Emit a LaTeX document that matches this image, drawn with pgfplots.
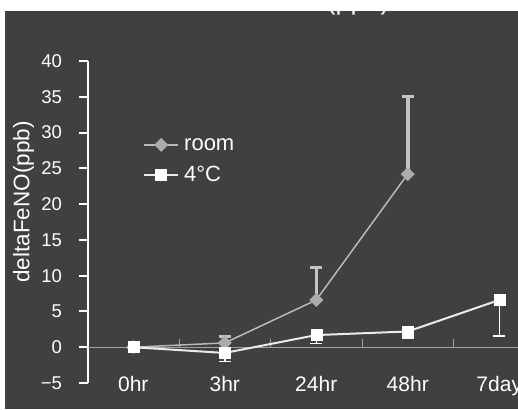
\documentclass[border=0pt]{standalone}
\usepackage{fontspec}
\setmainfont{Liberation Sans}
\usepackage{pgfplots}
\pgfplotsset{compat=1.18}
\definecolor{bg}{RGB}{64,64,64}
\definecolor{roomc}{RGB}{172,172,172}
\definecolor{roomline}{RGB}{185,185,185}
\definecolor{roomerr}{RGB}{195,195,195}
\definecolor{zeroc}{RGB}{160,160,160}
\definecolor{coldline}{RGB}{235,235,235}
\newcommand{\mns}{\char"2212\relax}
\newcommand{\degc}{\char"00B0\relax C}
\begin{document}
\begin{tikzpicture}[x=1bp,y=1bp]
\useasboundingbox (0,0) rectangle (518,409);
\fill[white] (0,0) rectangle (518,409);
\fill[bg] (5,0) rectangle (518,398);
\begin{scope}
\clip (5,0) rectangle (518,398);
\begin{axis}[
  at={(87.5bp,26bp)}, anchor=south west,
  scale only axis, width=457.5bp, height=322bp,
  xmin=-0.5, xmax=4.5, ymin=-5, ymax=40,
  axis lines*=left,
  x axis line style={draw=none},
  y axis line style={-, white, line width=2bp},
  xtick={0,...,4}, xticklabels={0hr,3hr,24hr,48hr,7day},
  xtick style={draw=none},
  ytick={-5,0,...,40},
  yticklabels={\mns5,0,5,10,15,20,25,30,35,40},
  ytick style={white, line width=2bp},
  tick align=outside,
  major tick length=9bp,
  yticklabel style={font=\fontsize{18.5bp}{20bp}\selectfont, text=white, xshift=-13bp},
  xticklabel style={font=\fontsize{21bp}{24bp}\selectfont, text=white, anchor=base, yshift=1bp},
  ylabel={\fontsize{22.5bp}{26bp}\selectfont deltaFeNO(ppb)},
  ylabel style={text=white, at={(axis description cs:-0.140,0.562)}, anchor=center},
  title={\fontsize{27bp}{30bp}\selectfont FeNO(ppb)},
  title style={text=white, at={(axis description cs:0.5126,1.1413)}, anchor=base},
  legend cell align=left,
  legend style={at={(axis description cs:0.1213,0.690)}, anchor=west, draw=none, fill=none, inner sep=0pt, row sep=11bp, column sep=3bp, font=\fontsize{22bp}{24bp}\selectfont, text=white},
  legend image code/.code={
    \draw[mark repeat=2,mark phase=2,#1] plot coordinates {(0bp,0bp) (17bp,0bp) (34bp,0bp)};
  },
]
\draw[zeroc, line width=1bp] (axis cs:-0.5,0) -- (axis cs:4.5,0);
\pgfplotsinvokeforeach{0.5,1.5,2.5,3.5,4.5}{
  \draw[zeroc, line width=1bp] (axis cs:#1,0) -- ++(0bp,8bp);
}
\addplot[roomline, line width=1.5bp, mark=square*, mark size=4.2bp,
  mark options={rotate=45, fill=roomc, draw=roomc},
  error bars/.cd, y dir=plus, y explicit,
  error bar style={roomerr, line width=3.5bp},
  error mark options={roomerr, line width=3bp, mark size=6bp, rotate=90}]
  coordinates {(0,0) +- (0,0) (1,0.6) +- (0,0.9) (2,6.6) +- (0,4.6) (3,24.2) +- (0,10.9)};
\addlegendentry{room}
\addplot[coldline, line width=2bp, mark=square*, mark size=5.5bp,
  mark options={fill=white, draw=white, line width=0.5bp},
  error bars/.cd, y dir=minus, y explicit,
  error bar style={white, line width=1.5bp},
  error mark options={white, line width=1.5bp, mark size=6bp, rotate=90}]
  coordinates {(0,0) +- (0,0) (1,-0.8) +- (0,1.2) (2,1.7) +- (0,1.2) (3,2.2) +- (0,1.0) (4,6.6) +- (0,5.0)};
\addlegendentry{4\degc}
\end{axis}
\end{scope}
\end{tikzpicture}
\end{document}
